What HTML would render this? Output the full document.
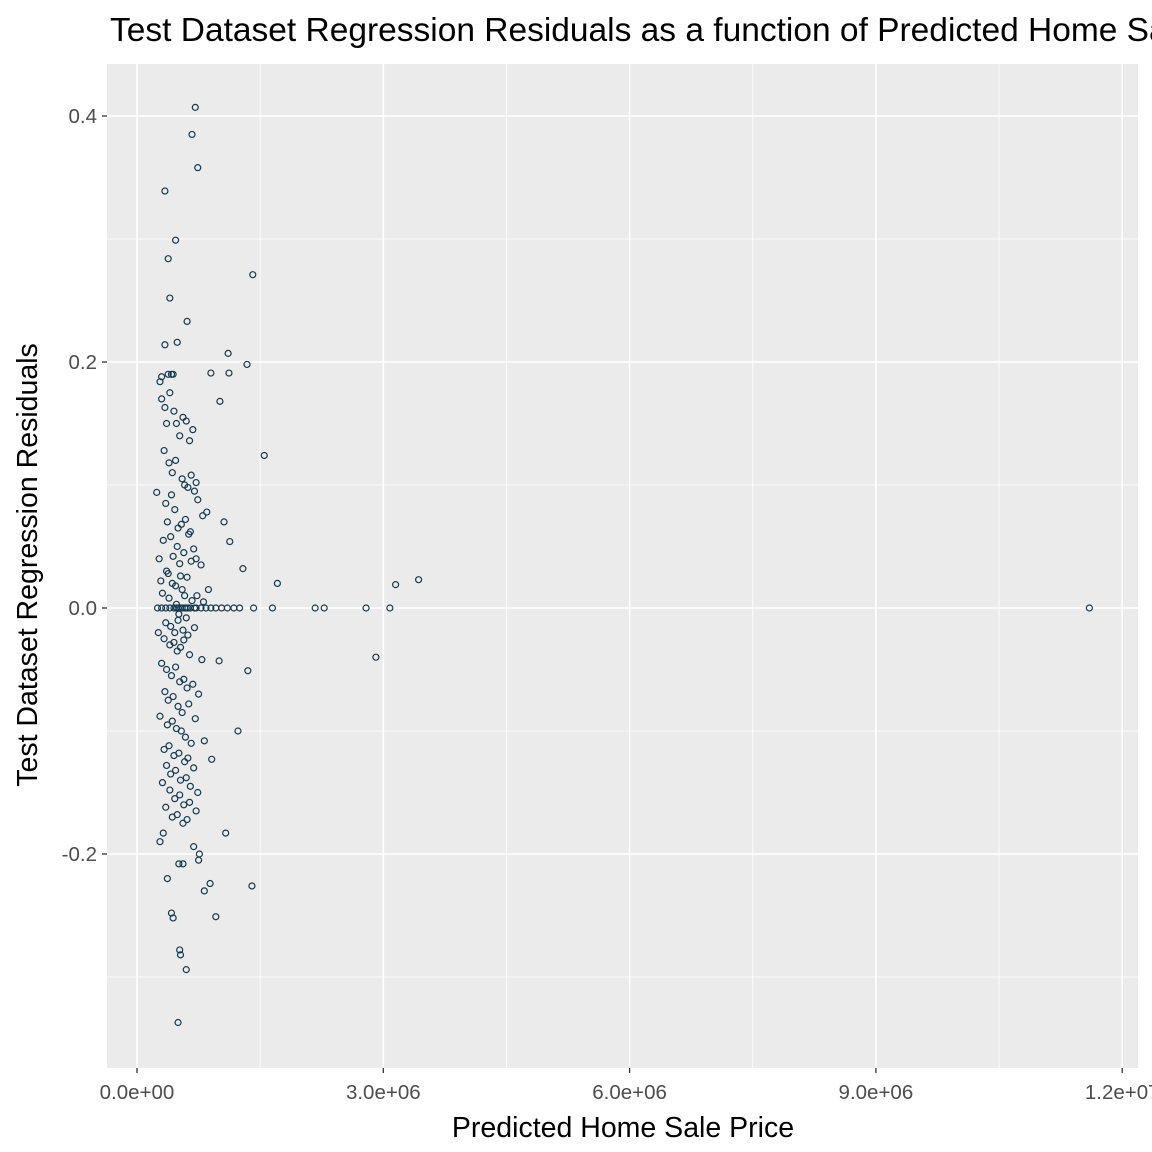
<!DOCTYPE html>
<html><head><meta charset="utf-8">
<style>
html,body{margin:0;padding:0;background:#fff;overflow:hidden;}
svg{display:block;font-family:"Liberation Sans",sans-serif;}
</style></head>
<body>
<svg id="chart" width="1152" height="1152" viewBox="0 0 1152 1152">
<rect x="0" y="0" width="1152" height="1152" fill="#fff"/>
<text x="110" y="41" font-size="33.5" fill="#000">Test Dataset Regression Residuals as a function of Predicted Home Sale Price</text>
<g id="panel"></g>
<text x="623" y="1137" font-size="28.5" text-anchor="middle" fill="#000">Predicted Home Sale Price</text>
<text transform="translate(37,565) rotate(-90)" font-size="28.5" text-anchor="middle" fill="#000">Test Dataset Regression Residuals</text>
</svg>
<script>
const xTicks=[0,3,6,9,12];
const xTickLabels=["0.0e+00","3.0e+06","6.0e+06","9.0e+06","1.2e+07"];
const yTicks=[-0.2,0,0.2,0.4];
const yTickLabels=["-0.2","0.0","0.2","0.4"];
// predicted price in millions, residual
const priceM=[0.71,0.67,0.74,0.34,0.47,0.38,1.41,0.40,0.61,0.49,0.34,1.11,1.34,0.90,1.12,0.28,0.30,0.38,0.42,0.44,1.01,1.55,0.24,1.06,1.13,1.29,1.71,3.15,3.43,11.6,2.17,2.28,2.79,3.08,1.65,1.42,1.25,1.18,1.10,1.03,0.96,0.90,0.84,0.78,2.91,1.35,1.00,1.23,0.91,1.08,1.40,0.89,0.82,0.96,0.60,0.52,0.53,0.50,0.42,0.44,0.37,0.51,0.56,0.75,0.76,0.69,0.28,0.32,
0.30,0.34,0.36,0.40,0.45,0.48,0.52,0.56,0.60,0.64,0.68,0.72,0.27,0.33,0.39,0.43,0.47,0.55,0.58,0.62,0.66,0.70,0.74,0.80,0.85,
0.35,0.37,0.42,0.46,0.50,0.54,0.59,0.63,0.32,0.41,0.49,0.57,0.65,0.72,0.78,0.36,0.44,0.52,0.61,0.69,0.29,0.38,0.47,0.53,0.58,0.66,0.81,0.87,
0.31,0.39,0.43,0.48,0.51,0.55,0.60,0.67,0.73,0.35,0.41,0.46,0.50,0.56,0.62,0.70,0.26,0.33,0.40,0.45,0.49,0.53,0.57,0.64,0.79,
0.30,0.36,0.42,0.47,0.52,0.57,0.61,0.68,0.75,0.34,0.38,0.44,0.50,0.55,0.63,0.71,0.28,0.37,0.43,0.48,0.54,0.59,0.66,0.82,
0.33,0.39,0.45,0.51,0.58,0.62,0.69,0.36,0.41,0.47,0.53,0.60,0.65,0.74,0.31,0.40,0.46,0.52,0.57,0.64,0.72,0.35,0.43,0.49,0.56,0.61,
0.25,0.30,0.35,0.40,0.45,0.50,0.55,0.58,0.60,0.62,0.65,0.70,0.72,0.48,0.53];
const resid=[0.407,0.385,0.358,0.339,0.299,0.284,0.271,0.252,0.233,0.216,0.214,0.207,0.198,0.191,0.191,0.184,0.188,0.19,0.19,0.19,0.168,0.124,0.094,0.070,0.054,0.032,0.020,0.019,0.023,0,0,0,0,0,0,0,0,0,0,0,0,0,0,0,-0.040,-0.051,-0.043,-0.100,-0.123,-0.183,-0.226,-0.224,-0.230,-0.251,-0.294,-0.278,-0.282,-0.337,-0.248,-0.252,-0.220,-0.208,-0.208,-0.205,-0.200,-0.194,-0.190,-0.183,
0.170,0.163,0.150,0.175,0.160,0.150,0.140,0.155,0.152,0.136,0.145,0.102,0.040,0.128,0.118,0.110,0.120,0.105,0.100,0.098,0.108,0.095,0.088,0.075,0.078,
0.085,0.070,0.092,0.080,0.065,0.068,0.072,0.060,0.055,0.058,0.050,0.045,0.062,0.040,0.035,0.030,0.042,0.036,0.025,0.048,0.022,0.028,0.018,0.026,0.010,0.038,0.005,0.015,
0.012,0.008,0.020,0.003,-0.005,0.015,-0.008,0.006,0.010,-0.012,-0.015,-0.020,-0.010,-0.018,-0.022,-0.016,-0.020,-0.025,-0.030,-0.028,-0.035,-0.032,-0.026,-0.038,-0.042,
-0.045,-0.050,-0.055,-0.048,-0.060,-0.058,-0.065,-0.062,-0.070,-0.068,-0.075,-0.072,-0.080,-0.085,-0.078,-0.090,-0.088,-0.095,-0.092,-0.098,-0.100,-0.105,-0.110,-0.108,
-0.115,-0.112,-0.120,-0.118,-0.125,-0.122,-0.130,-0.128,-0.135,-0.132,-0.140,-0.138,-0.145,-0.150,-0.142,-0.148,-0.155,-0.152,-0.160,-0.158,-0.165,-0.162,-0.170,-0.168,-0.175,-0.172,
0,0,0,0,0,0,0,0,0,0,0,0,0,0,0];
const svgNS="http://www.w3.org/2000/svg";
const L=107,R=1138,T=64,B=1068;
const xs=v=>137+v*82.1;
const ys=v=>608-v*1230;
const panel=document.getElementById('panel');
function mk(tag,attrs,parent){const e=document.createElementNS(svgNS,tag);for(const k in attrs)e.setAttribute(k,attrs[k]);(parent||panel).appendChild(e);return e;}
const bg=mk('rect',{x:L,y:T,width:R-L,height:B-T,fill:'#ebebeb'});


for(let i=0;i<xTicks.length-1;i++){const v=(xTicks[i]+xTicks[i+1])/2;const g=mk('line',{x1:xs(v),x2:xs(v),y1:T,y2:B,stroke:'#fff','stroke-width':0.8});}
for(let i=0;i<yTicks.length;i++){const v=yTicks[i]-0.1;const g=mk('line',{x1:L,x2:R,y1:ys(v),y2:ys(v),stroke:'#fff','stroke-width':0.8});}
const svg=document.getElementById('chart');
xTicks.forEach((v,i)=>{
 const g=mk('line',{x1:xs(v),x2:xs(v),y1:T,y2:B,stroke:'#fff','stroke-width':1.6});
 
 
 const t=mk('line',{x1:xs(v),x2:xs(v),y1:B,y2:B+5,stroke:'#333','stroke-width':1.3},svg);
 
 
 const l=mk('text',{x:xs(v),y:B+31,'font-size':20.5,'text-anchor':'middle',fill:'#4d4d4d'},svg);
 l.textContent=xTickLabels[i];
 
 
});
yTicks.forEach((v,i)=>{
 const g=mk('line',{x1:L,x2:R,y1:ys(v),y2:ys(v),stroke:'#fff','stroke-width':1.6});
 
 
 const t=mk('line',{x1:L-5,x2:L,y1:ys(v),y2:ys(v),stroke:'#333','stroke-width':1.3},svg);
 
 
 const l=mk('text',{x:L-10,y:ys(v)+7,'font-size':20.5,'text-anchor':'end',fill:'#4d4d4d'},svg);
 l.textContent=yTickLabels[i];
 
 
});
priceM.forEach((p,i)=>{
 if(resid[i]===undefined)return;
 const c=mk('circle',{cx:xs(p),cy:ys(resid[i]),r:3,fill:'none',stroke:'#16394f','stroke-width':1.2});
 
 
});
</script>
</body></html>
